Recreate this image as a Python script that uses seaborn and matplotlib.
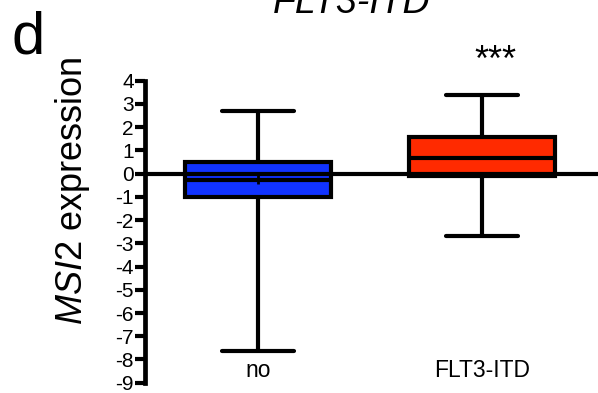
import matplotlib
matplotlib.use("Agg")
import pandas as pd
import seaborn as sns
import matplotlib.pyplot as plt

# values
groups = ["no", "FLT3-ITD"]
# min, q1, median, q3, max  (box goes min to max)
no_summary = [-7.62, -1.02, -0.26, 0.49, 2.69]
itd_summary = [-2.69, -0.12, 0.67, 1.57, 3.37]
mean_no = -0.24
box_colors = ["#1133ff", "#ff2a00"]
yticks = list(range(-9, 5))

sns.set_style("ticks")
plt.rcParams["font.family"] = ["Liberation Sans", "DejaVu Sans"]
plt.rcParams["axes.unicode_minus"] = False
plt.rcParams["mathtext.fontset"] = "custom"
plt.rcParams["mathtext.rm"] = "Liberation Sans"
plt.rcParams["mathtext.it"] = "Liberation Sans:italic"
for k in ["text.color", "axes.labelcolor", "xtick.color", "ytick.color",
          "axes.edgecolor"]:
    plt.rcParams[k] = "black"

df = pd.DataFrame({
    "group": [groups[0]] * len(no_summary) + [groups[1]] * len(itd_summary),
    "expr": no_summary + itd_summary,
})

fig = plt.figure(figsize=(5.98, 3.93), dpi=100)
ax = fig.add_axes([0.2425, 0.0262, 0.7575, 0.7684])

sns.boxplot(data=df, x="group", y="expr", hue="group", order=groups,
            hue_order=groups, palette=box_colors, width=0.65,
            whis=(0, 100), linewidth=3, linecolor="black", saturation=1,
            legend=False, ax=ax)

# mean marker
ax.plot(groups.index("no"), mean_no, marker="+", ms=7, mew=2,
        color="black", zorder=6)

# x axis drawn at zero, on top of the boxes
ax.axhline(0, color="black", lw=3, zorder=5)

ax.set_ylim(-9, 4)
ax.set_yticks(yticks)
ax.set_xlim(-0.5045, 1.518)
ax.set_xlabel("")
ax.set_ylabel("")

sns.despine(ax=ax, bottom=True)
ax.spines["left"].set_linewidth(3.4)
ax.tick_params(axis="y", length=7, width=3, labelsize=15, pad=1)
ax.tick_params(axis="x", length=0, labelsize=16.5, pad=-17)

fig.text(72 / 598, 1 - 191 / 393, r"$\mathit{MSI2}$ expression",
         rotation=90, ha="center", va="center", fontsize=26)
fig.text(12 / 598, 1 - 53 / 393, "d", fontsize=43, ha="left", va="baseline")
fig.text(352 / 598, 1 - 12.7 / 393, "FLT3-ITD", style="italic", fontsize=27,
         ha="center", va="baseline")
fig.text(495.5 / 598, 1 - 71 / 393, "***", fontsize=26, ha="center",
         va="baseline")

fig.savefig("out.png", dpi=100)
